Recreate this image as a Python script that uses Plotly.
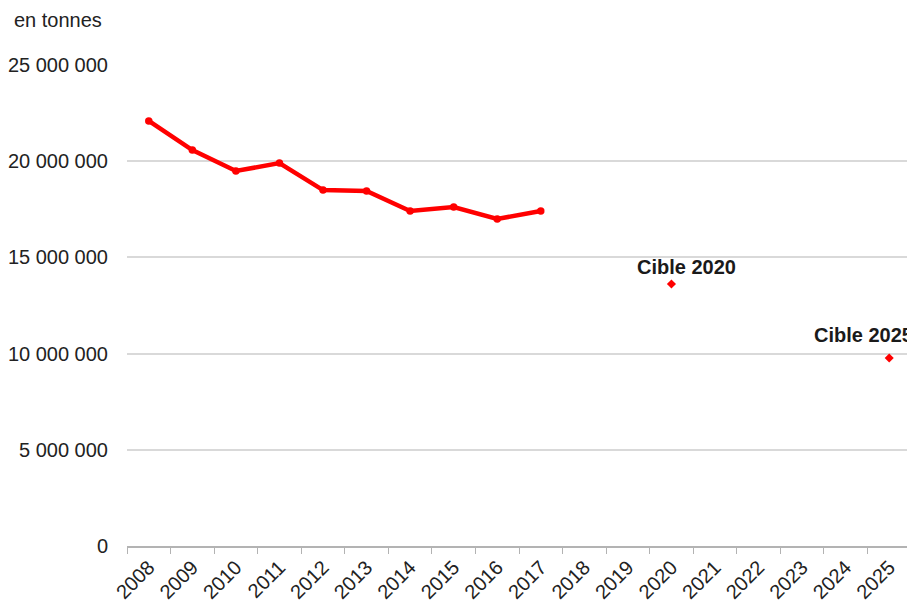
import plotly.graph_objects as go

years = [str(y) for y in range(2008, 2026)]
hist_years = [str(y) for y in range(2008, 2018)]
hist_values = [22090000, 20580000, 19490000, 19900000, 18500000, 18450000,
               17410000, 17620000, 17000000, 17410000]
target_years = ["2020", "2025"]
target_values = [13620000, 9770000]
target_labels = ["Cible 2020", "Cible 2025"]
y_ticks = [0, 5000000, 10000000, 15000000, 20000000, 25000000]
y_tick_text = ["0", "5 000 000", "10 000 000", "15 000 000", "20 000 000", "25 000 000"]

FONT = "Liberation Sans, Arial, sans-serif"

fig = go.Figure()
fig.add_trace(go.Scatter(
    x=hist_years, y=hist_values, mode="lines+markers",
    line=dict(color="#ff0000", width=4.5),
    marker=dict(color="#ff0000", size=7.5),
    cliponaxis=False, showlegend=False, hoverinfo="x+y"))
fig.add_trace(go.Scatter(
    x=target_years, y=target_values, mode="markers",
    marker=dict(color="#ff0000", size=7, symbol="diamond"),
    cliponaxis=False, showlegend=False))

offsets = [(15, 17), (-26, 23)]
for yr, v, lab, (sx, sy) in zip(target_years, target_values, target_labels, offsets):
    fig.add_annotation(x=years.index(yr), y=v, text="<b>%s</b>" % lab, showarrow=False,
                       xshift=sx, yshift=sy, yanchor="middle",
                       font=dict(family=FONT, size=20, color="#1a1a1a"))

fig.add_annotation(xref="paper", yref="paper", x=(12 - 127) / 784, y=(546 - 20) / 481,
                   xanchor="left", yanchor="middle", text="en tonnes", showarrow=False,
                   font=dict(family=FONT, size=20, color="#222222"))

fig.update_layout(
    width=907, height=597,
    margin=dict(l=119, r=4, t=57, b=59),
    paper_bgcolor="white", plot_bgcolor="white",
    font=dict(family=FONT, size=20, color="#222222"),
    xaxis=dict(type="category", categoryorder="array", categoryarray=years,
               range=[-0.5, 17.5], tickson="boundaries", ticks="outside", ticklen=6,
               tickcolor="#b3b3b3", showline=True, linecolor="#b3b3b3", linewidth=1.5,
               showgrid=False, tickangle=-45, tickfont=dict(size=20), automargin=False),
    yaxis=dict(range=[0, 25000000], tickvals=y_ticks, ticktext=y_tick_text,
               showgrid=True, gridcolor="#d9d9d9", gridwidth=1.5, zeroline=False,
               showline=False, ticks="", ticklabelstandoff=18, tickfont=dict(size=20),
               automargin=False),
)

fig.write_html("out.html")
